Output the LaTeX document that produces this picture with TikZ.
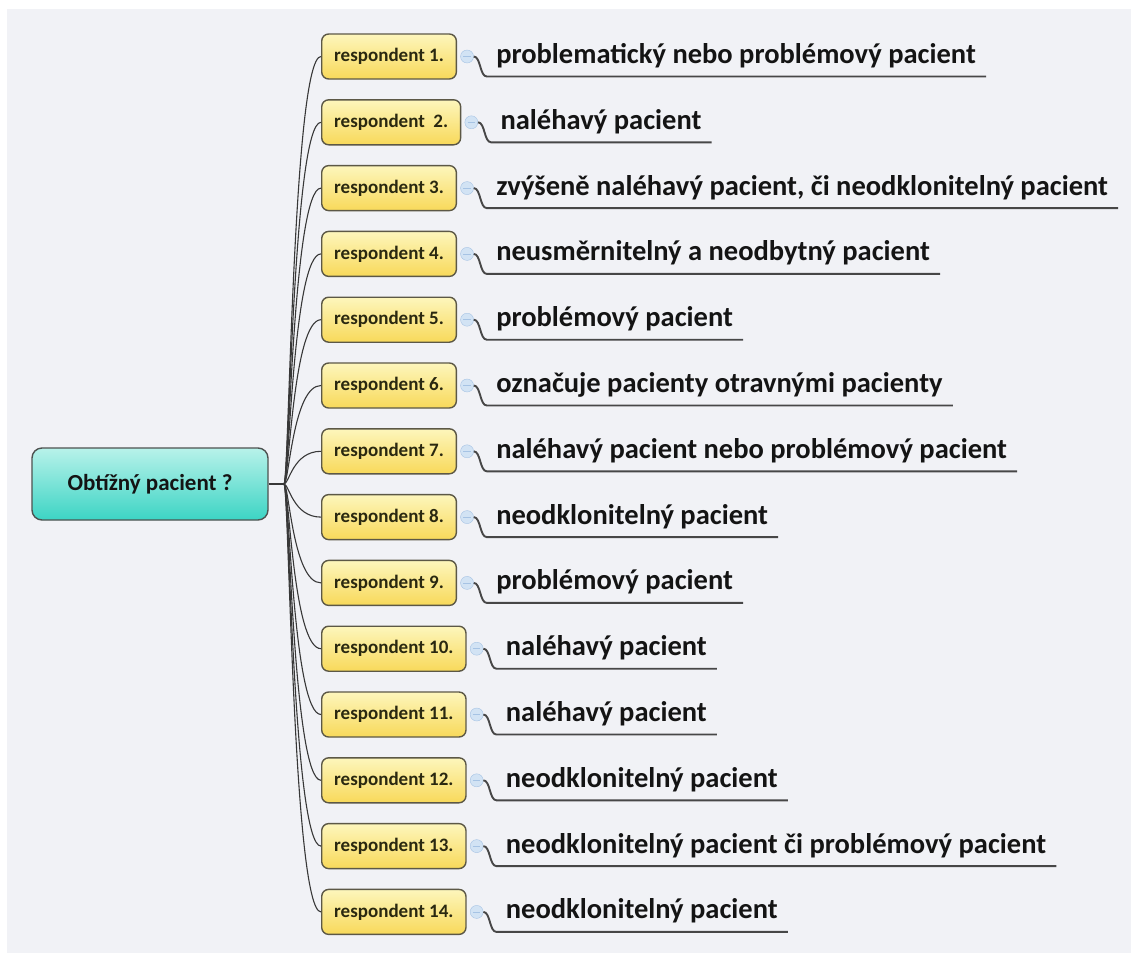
\documentclass[tikz,border=0pt]{standalone}
\usepackage{fontspec}
\setmainfont{Carlito}
\usetikzlibrary{calc}
\definecolor{bgcol}{HTML}{F1F2F6}
\definecolor{roottop}{HTML}{B8F2EA}
\definecolor{rootbot}{HTML}{3CD4C4}
\definecolor{rootedge}{HTML}{4E5250}
\definecolor{resptop}{HTML}{FDF6BC}
\definecolor{respbot}{HTML}{F8D95A}
\definecolor{respedge}{HTML}{5C5846}
\definecolor{resptxt}{HTML}{2A2810}
\definecolor{btnfill}{HTML}{D2E3F4}
\definecolor{btnedge}{HTML}{A6C3E4}
\definecolor{linecol}{HTML}{383838}
\definecolor{ulcol}{HTML}{474747}
\definecolor{txt}{HTML}{141414}
\begin{document}
\begin{tikzpicture}[x=1pt,y=-1pt,
  rootbox/.style={draw=rootedge, line width=1.4pt, rounded corners=10pt, top color=roottop, bottom color=rootbot,
    minimum width=236pt, minimum height=72pt, font=\bfseries\fontsize{23}{25}\selectfont, text=txt},
  respbox/.style={draw=respedge, line width=1.4pt, rounded corners=7pt, top color=resptop, bottom color=respbot,
    minimum height=45pt, inner xsep=12.5pt, anchor=west, font=\bfseries\fontsize{19}{21}\selectfont, text=resptxt},
  btn/.style={circle, draw=btnedge, fill=btnfill, minimum size=13pt, inner sep=0pt},
  labtext/.style={anchor=base west, inner sep=0pt, font=\bfseries\fontsize{28.5}{31}\selectfont, text=txt},
  branch/.style={draw=linecol, line width=1.1pt},
  uline/.style={draw=ulcol, line width=1.9pt}]
\useasboundingbox (0,0) rectangle (1131,953);
\fill[bgcol] (7,9) rectangle (1131,953);
\node[rootbox] (root) at (150,484) {Obtížný pacient ?};
\coordinate (J) at (284,484);
\draw[branch] (root.east) -- (J);
\foreach \n/\r/\t in {1/respondent 1./problematický nebo problémový pacient,
    2/respondent~~2./naléhavý pacient,
    3/respondent 3./{zvýšeně naléhavý pacient, či neodklonitelný pacient},
    4/respondent 4./neusměrnitelný a neodbytný pacient,
    5/respondent 5./problémový pacient,
    6/respondent 6./označuje pacienty otravnými pacienty,
    7/respondent 7./naléhavý pacient nebo problémový pacient,
    8/respondent 8./neodklonitelný pacient,
    9/respondent 9./problémový pacient,
    10/respondent 10./naléhavý pacient,
    11/respondent 11./naléhavý pacient,
    12/respondent 12./neodklonitelný pacient,
    13/respondent 13./neodklonitelný pacient či problémový pacient,
    14/respondent 14./neodklonitelný pacient}{
  \pgfmathsetmacro\y{56.5+(\n-1)*65.8}
  \node[respbox] (resp\n) at (321,\y) {\r};
  \node[btn] (btn\n) at ($(resp\n.east)+(10,0)$) {};
  \draw[btnedge, line width=0.8pt] ([xshift=3pt]btn\n.west) -- ([xshift=-3pt]btn\n.east);
  \node[labtext] (lab\n) at ($(btn\n.center)+(29,7)$) {\t};
  \draw[uline] (btn\n.east) .. controls +(7,0) and +(-7,0) .. ++(13,20) -- ($(lab\n.base east)+(10,13)$);
  \draw[branch] (J) .. controls +(5,0) and +(-28,0) .. (resp\n.west);
}
\end{tikzpicture}
\end{document}
